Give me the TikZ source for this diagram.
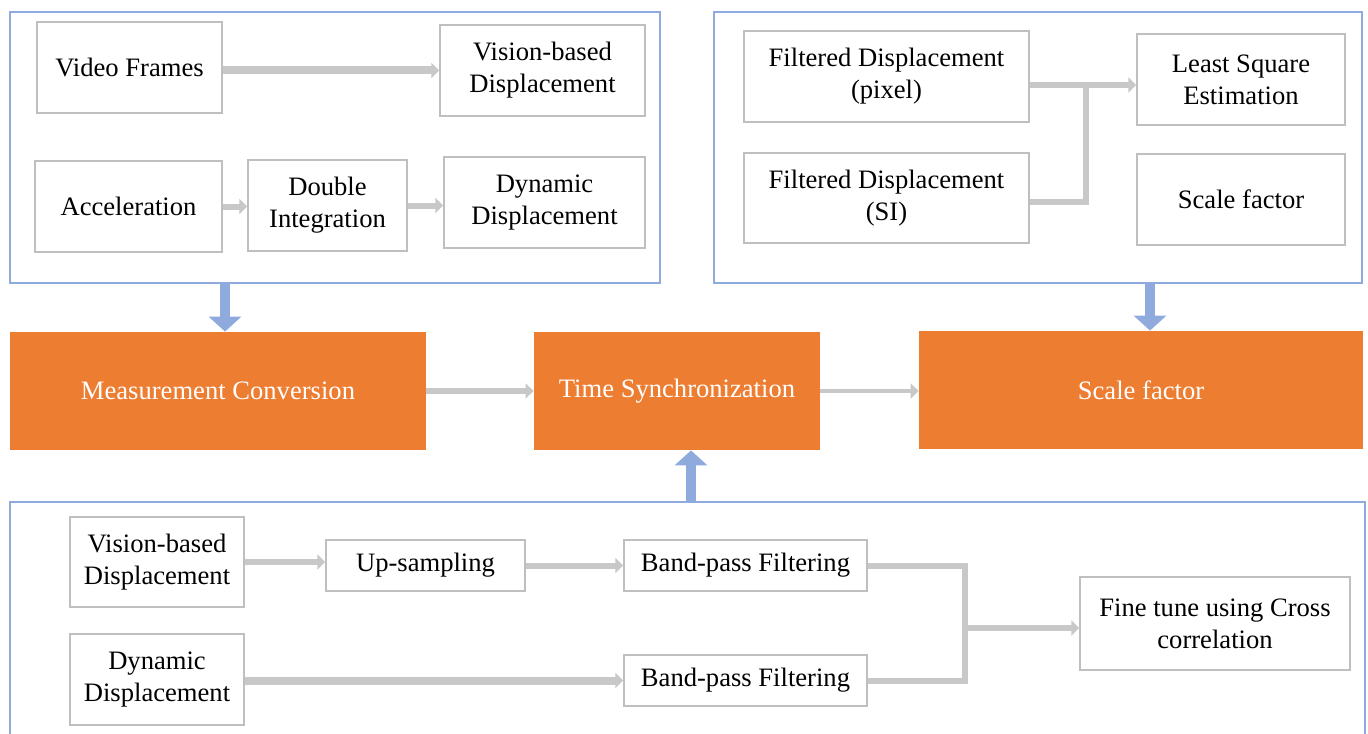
\documentclass[tikz,border=0pt]{standalone}
\usepackage{fontspec}
\setmainfont{Liberation Serif}
\usetikzlibrary{arrows.meta}
\definecolor{hubfill}{HTML}{ED7D31}
\definecolor{panelline}{HTML}{8FAADC}
\definecolor{flowgray}{HTML}{C8C8C8}
\definecolor{boxline}{HTML}{BFBFBF}
\begin{document}
\begin{tikzpicture}[x=0.5pt,y=-0.5pt,
    wh/.style 2 args={minimum width=#1*0.5pt,minimum height=#2*0.5pt},
    box/.style={draw=boxline,line width=0.75pt,fill=white,align=center,inner sep=0pt,
      font=\fontsize{13.3}{16}\selectfont},
    hub/.style={fill=hubfill,text=white,align=center,inner sep=0pt,
      font=\fontsize{13.3}{16}\selectfont},
    panel/.style={draw=panelline,line width=1pt,inner sep=0pt},
    flow/.style={draw=flowgray,line width=3pt,-{Triangle[length=4pt,width=7.5pt]}},
    flowline/.style={draw=flowgray,line width=3pt},
    bluearrow/.style={draw=panelline,line width=5pt,-{Triangle[length=7.5pt,width=16pt]}}]
  \useasboundingbox (0,0) rectangle (1368,733);
  \node[panel,wh={650}{271}] (panelA) at (335,147.5) {};
  \node[panel,wh={648}{271}] (panelB) at (1038,147.5) {};
  \node[panel,wh={1355}{250}] (panelC) at (687.5,627) {};
  \node[box,wh={185}{91}] (vf) at (129.5,67.5) {Video Frames};
  \node[box,wh={205}{91}] (vbd) at (542.5,70.5) {Vision-based\\Displacement};
  \node[box,wh={187}{91}] (acc) at (128.5,206.5) {Acceleration};
  \node[box,wh={159}{91}] (dint) at (327.5,205.5) {Double\\Integration};
  \node[box,wh={201}{91}] (ddisp) at (544.5,202.5) {Dynamic\\Displacement};
  \node[box,wh={285}{91}] (fdp) at (886.5,76.5) {Filtered Displacement\\(pixel)};
  \node[box,wh={285}{90}] (fdsi) at (886.5,198) {Filtered Displacement\\(SI)};
  \node[box,wh={208}{91}] (lse) at (1241,79.5) {Least Square\\Estimation};
  \node[box,wh={208}{91}] (sfw) at (1241,199.5) {Scale factor};
  \node[hub,wh={416}{118}] (mc) at (218,391) {Measurement Conversion};
  \node[hub,wh={286}{118}] (ts) at (677,391) {Time Synchronization};
  \node[hub,wh={444}{118}] (sf) at (1141,390) {Scale factor};
  \node[box,wh={174}{90}] (vbd2) at (157,562) {Vision-based\\Displacement};
  \node[box,wh={199}{51}] (up) at (425.5,565.5) {Up-sampling};
  \node[box,wh={243}{51}] (bpf1) at (745.5,565.5) {Band-pass Filtering};
  \node[box,wh={270}{93}] (ft) at (1215,623.5) {Fine tune using Cross\\correlation};
  \node[box,wh={174}{91}] (dd2) at (157,679.5) {Dynamic\\Displacement};
  \node[box,wh={243}{51}] (bpf2) at (745.5,680.5) {Band-pass Filtering};
  \draw[flow,line width=4pt] (vbd.west -| vf.east) -- (vbd.west);
  \draw[flow] (acc.east) -- (acc.east -| dint.west);
  \draw[flow] (dint.east) -- (dint.east -| ddisp.west);
  \coordinate (jn) at (1086,85);
  \draw[flow] (fdp.east |- jn) -- (jn -| lse.west);
  \draw[flowline] (fdsi.east |- 0,202) -| (jn);
  \draw[bluearrow] ([xshift=3.5pt]mc.north |- panelA.south) -- ([xshift=3.5pt]mc.north);
  \draw[bluearrow] ([xshift=4.5pt]sf.north |- panelB.south) -- ([xshift=4.5pt]sf.north);
  \draw[bluearrow] ([xshift=7pt]ts.south |- panelC.north) -- ([xshift=7pt]ts.south);
  \draw[flow] (mc.east) -- (ts.west);
  \draw[flow,line width=2pt] (ts.east) -- (ts.east -| sf.west);
  \draw[flow] (vbd2.east) -- (vbd2.east -| up.west);
  \draw[flow] (up) -- (bpf1);
  \draw[flow,line width=4pt] (dd2.east |- bpf2.west) -- (bpf2.west);
  \coordinate (mrg) at (965,628);
  \draw[flowline] (bpf1.east) -| (mrg);
  \draw[flowline] (bpf2.east) -| (mrg);
  \draw[flow] (mrg) -- (mrg -| ft.west);
\end{tikzpicture}
\end{document}
